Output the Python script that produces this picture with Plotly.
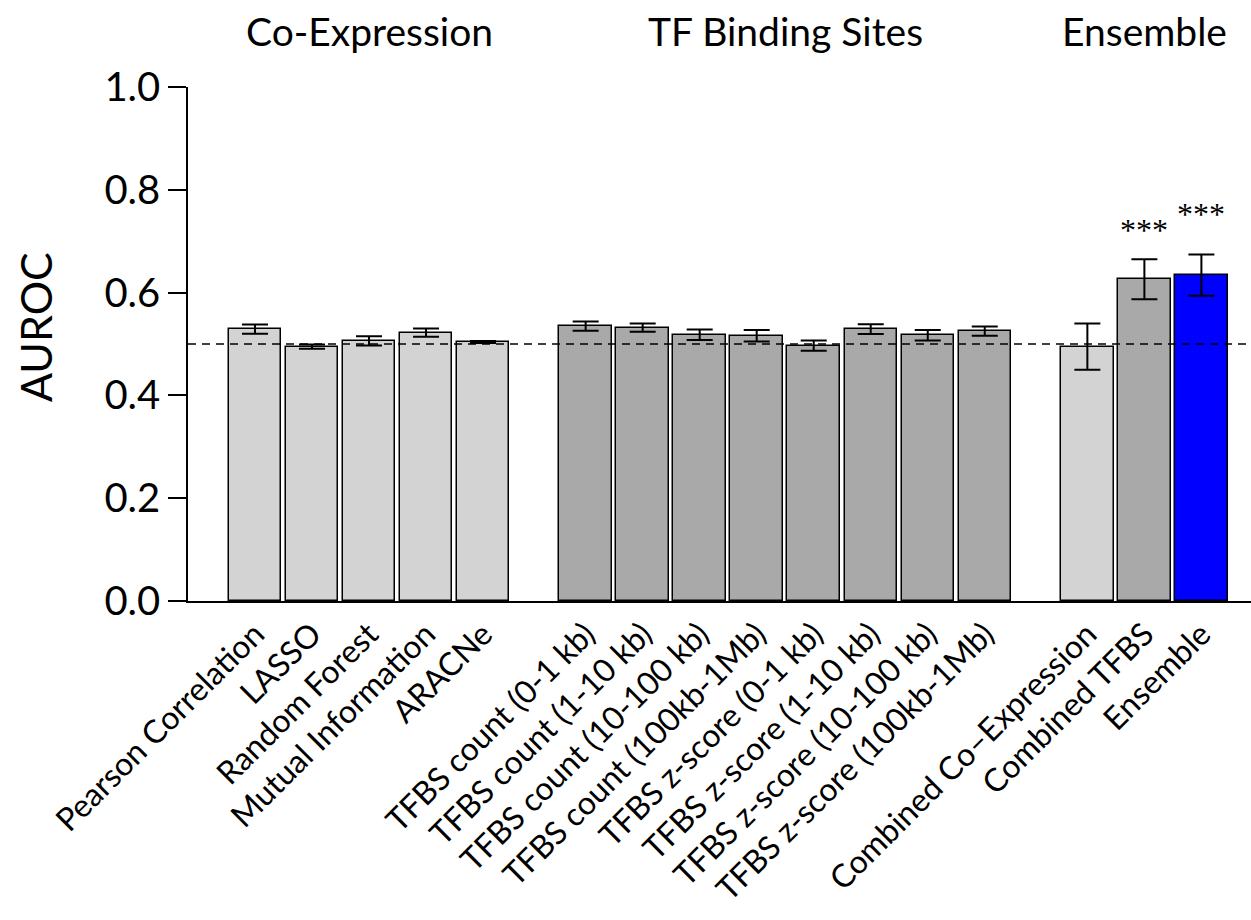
import plotly.graph_objects as go

categories = ["Pearson Correlation", "LASSO", "Random Forest", "Mutual Information", "ARACNe",
              "TFBS count (0-1 kb)", "TFBS count (1-10 kb)", "TFBS count (10-100 kb)", "TFBS count (100kb-1Mb)",
              "TFBS z-score (0-1 kb)", "TFBS z-score (1-10 kb)", "TFBS z-score (10-100 kb)", "TFBS z-score (100kb-1Mb)",
              "Combined Co\u2013Expression", "Combined TFBS", "Ensemble"]
positions = [0, 1, 2, 3, 4,
             5.8, 6.8, 7.8, 8.8, 9.8, 10.8, 11.8, 12.8,
             14.6, 15.6, 16.6]
auroc = [0.529, 0.495, 0.506, 0.522, 0.504,
         0.535, 0.532, 0.518, 0.516, 0.497, 0.529, 0.517, 0.525,
         0.495, 0.626, 0.634]
err = [0.009, 0.004, 0.009, 0.008, 0.002,
       0.009, 0.008, 0.010, 0.011, 0.010, 0.0095, 0.010, 0.009,
       0.045, 0.039, 0.040]
colors = ["#d3d3d3"] * 5 + ["#a9a9a9"] * 8 + ["#d3d3d3", "#a9a9a9", "#0000ff"]

group_titles = ["Co-Expression", "TF Binding Sites", "Ensemble"]
group_title_x = [2.0, 9.3, 15.6]
signif_labels = ["***", "***"]
signif_x = [15.6, 16.6]
signif_y = [0.722, 0.753]

FONT = "Lato"

fig = go.Figure()
fig.add_trace(go.Bar(
    x=positions, y=auroc, width=0.92,
    marker=dict(color=colors, line=dict(color="black", width=1.5)),
    error_y=dict(type="data", array=err, visible=True, color="black", thickness=2, width=13),
    showlegend=False,
))

fig.add_shape(type="line", xref="paper", x0=0, x1=1, yref="y", y0=0.5, y1=0.5,
              line=dict(color="black", width=1.5, dash="8px,6px"))

for t, x in zip(group_titles, group_title_x):
    fig.add_annotation(x=x, y=1.109, xref="x", yref="paper", text=t, showarrow=False,
                       font=dict(family=FONT, size=39, color="black"), yanchor="middle")

for t, x, y in zip(signif_labels, signif_x, signif_y):
    fig.add_annotation(x=x, y=y, xref="x", yref="paper", text=t, showarrow=False,
                       font=dict(family="Liberation Serif", size=32, color="black"), yanchor="middle")

# y-axis title
fig.add_annotation(x=0, y=0.533, xref="paper", yref="paper", text="AUROC", showarrow=False,
                   textangle=-90, xanchor="center", yanchor="middle", xshift=-153,
                   font=dict(family=FONT, size=43, color="black"))

fig.update_layout(
    width=1251, height=920,
    margin=dict(l=188, r=0, t=87, b=319, autoexpand=False),
    plot_bgcolor="white", paper_bgcolor="white",
    font=dict(family=FONT, color="black"),
    bargap=0,
)
fig.update_xaxes(
    range=[-1.175, 17.47], automargin=False,
    tickmode="array", tickvals=positions, ticktext=categories,
    tickangle=-45, tickfont=dict(family=FONT, size=32, color="black"),
    showline=True, linecolor="black", linewidth=1.5,
    ticks="", showgrid=False, zeroline=False,
)
fig.update_yaxes(
    range=[0, 1], automargin=False,
    tickvals=[0, 0.2, 0.4, 0.6, 0.8, 1.0], ticktext=["0.0", "0.2", "0.4", "0.6", "0.8", "1.0"],
    ticks="outside", ticklen=18, tickwidth=1.5, tickcolor="black",
    tickfont=dict(family=FONT, size=40, color="black"),
    showline=True, linecolor="black", linewidth=1.5,
    showgrid=False, zeroline=False,
)

fig.write_html("out.html", config={"displayModeBar": False},
               post_script="document.body.style.margin='0px';document.body.style.overflow='hidden';")
